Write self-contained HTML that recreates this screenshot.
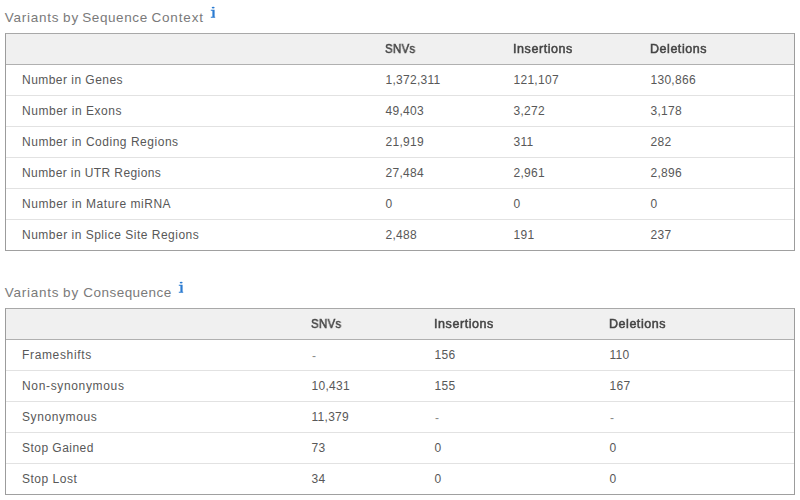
<!DOCTYPE html>
<html><head><meta charset="utf-8">
<style>
html,body{margin:0;padding:0;background:#fff;}
body{width:800px;height:500px;overflow:hidden;position:relative;font-family:"Liberation Sans",sans-serif;color:#585858;}
h3{position:absolute;left:0;margin:0;font-weight:normal;font-size:13.5px;color:#7a7a7a;white-space:nowrap;line-height:16px;height:16px;width:300px;}
h3 span{position:absolute;top:0;}
.i{position:absolute;fill:#2b7bd1;}
.w{position:absolute;left:5px;width:788px;border:1px solid #9c9c9c;border-top-color:#a8a8a8;border-bottom-color:#a0a0a0;}
table{width:788px;border-collapse:collapse;border:none;table-layout:fixed;font-size:12.5px;}
th,td{height:30px;padding:0 0 0 16px;text-align:left;vertical-align:middle;border-top:1px solid #e2e2e2;font-weight:normal;}
td:first-child{font-size:12px;}
thead th{background:#f0f0f0;border-top:none;border-bottom:1px solid #b0b0b0;font-weight:normal;color:#444;-webkit-text-stroke:0.5px #444;letter-spacing:0.35px;padding-top:0;height:30px;}
tbody tr:first-child td{border-top:none;}
td+td{padding-left:16.5px;font-size:12px;letter-spacing:0.28px;}
thead th span{display:inline-block;will-change:transform;}
.d{position:relative;left:0.5px;top:1px;color:#8a8a8a;}
</style></head><body>
<h3 style="top:10px"><span style="left:4.7px;letter-spacing:0.75px">Variants</span><span style="left:63px;letter-spacing:1.1px">by</span><span style="left:82.2px;letter-spacing:0.6px">Sequence</span><span style="left:151.4px;letter-spacing:0.85px">Context</span></h3><svg class="i" style="left:209px;top:5px" width="8" height="14" viewBox="0 0 8 14"><ellipse cx="4.15" cy="2.6" rx="1.45" ry="0.95"/><path d="M1.8 4.85H5.6V11.8H6.2V12.85H1.8V11.8H3.4V5.85H1.8Z"/></svg>
<div class="w" style="top:33px"><table>
<colgroup><col style="width:363px"><col style="width:128px"><col style="width:137px"><col></colgroup>
<thead><tr><th></th><th style="letter-spacing:0.3px"><span style="transform:scaleX(0.92);transform-origin:0 50%">SNVs</span></th><th style="letter-spacing:0.57px"><span>Insertions</span></th><th style="letter-spacing:0.54px"><span>Deletions</span></th></tr></thead>
<tbody>
<tr><td style="letter-spacing:0.464px">Number in Genes</td><td>1,372,311</td><td>121,107</td><td>130,866</td></tr>
<tr><td style="letter-spacing:0.536px">Number in Exons</td><td>49,403</td><td>3,272</td><td>3,178</td></tr>
<tr><td style="letter-spacing:0.522px">Number in Coding Regions</td><td>21,919</td><td>311</td><td>282</td></tr>
<tr><td style="letter-spacing:0.405px">Number in UTR Regions</td><td>27,484</td><td>2,961</td><td>2,896</td></tr>
<tr><td style="letter-spacing:0.536px">Number in Mature miRNA</td><td>0</td><td>0</td><td>0</td></tr>
<tr><td style="letter-spacing:0.5px">Number in Splice Site Regions</td><td>2,488</td><td>191</td><td>237</td></tr>
</tbody></table></div>
<h3 style="top:285px"><span style="left:4.7px;letter-spacing:0.75px">Variants</span><span style="left:63px;letter-spacing:1.1px">by</span><span style="left:83.35px;letter-spacing:0.455px">Consequence</span></h3><svg class="i" style="left:177.1px;top:280px" width="8" height="14" viewBox="0 0 8 14"><ellipse cx="4.15" cy="2.6" rx="1.45" ry="0.95"/><path d="M1.8 4.85H5.6V11.8H6.2V12.85H1.8V11.8H3.4V5.85H1.8Z"/></svg>
<div class="w" style="top:308px"><table>
<colgroup><col style="width:289px"><col style="width:123px"><col style="width:175px"><col></colgroup>
<thead><tr><th></th><th style="letter-spacing:0.3px"><span style="transform:scaleX(0.92);transform-origin:0 50%">SNVs</span></th><th style="letter-spacing:0.57px"><span>Insertions</span></th><th style="letter-spacing:0.54px"><span>Deletions</span></th></tr></thead>
<tbody>
<tr><td style="letter-spacing:0.65px">Frameshifts</td><td><span class="d">-</span></td><td>156</td><td>110</td></tr>
<tr><td style="letter-spacing:0.654px">Non-synonymous</td><td>10,431</td><td>155</td><td>167</td></tr>
<tr><td style="letter-spacing:0.589px">Synonymous</td><td>11,379</td><td><span class="d">-</span></td><td><span class="d">-</span></td></tr>
<tr><td style="letter-spacing:0.47px">Stop Gained</td><td>73</td><td>0</td><td>0</td></tr>
<tr><td style="letter-spacing:0.512px">Stop Lost</td><td>34</td><td>0</td><td>0</td></tr>
</tbody></table></div>
</body></html>
